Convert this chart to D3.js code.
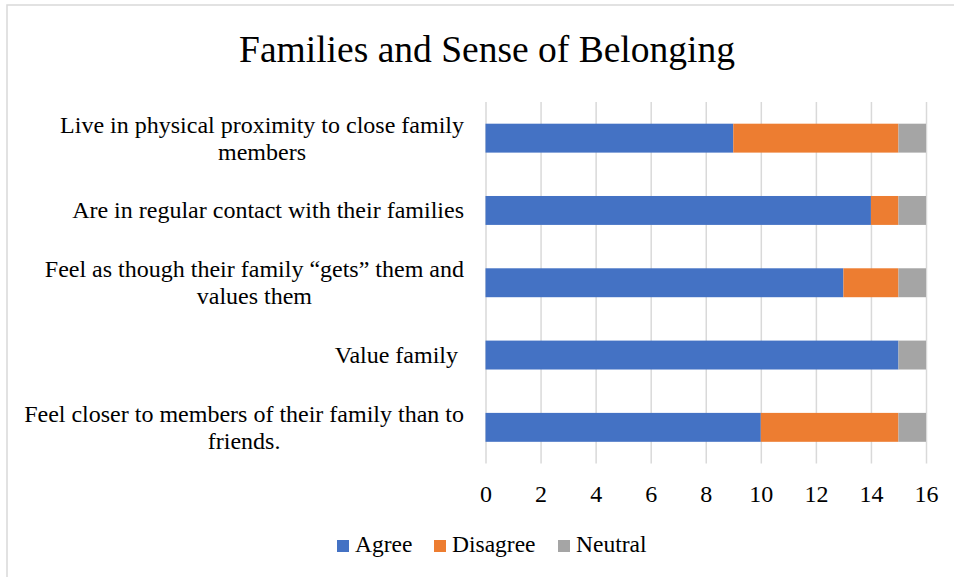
<!DOCTYPE html>
<html>
<head>
<meta charset="utf-8">
<script src="https://cdn.jsdelivr.net/npm/d3@7"></script>
<style>
  html, body { margin: 0; padding: 0; background: #fff; }
  svg { display: block; }
  svg text { font-family: "Liberation Serif", "Times New Roman", serif !important; fill: #000; }
</style>
</head>
<body>
<svg id="chart" width="954" height="577" font-family="Liberation Serif, serif"></svg>
<script>
// Survey responses: how families relate to a sense of belonging
const categories = [
  "Live in physical proximity to close family members",
  "Are in regular contact with their families",
  "Feel as though their family \u201cgets\u201d them and values them",
  "Value family ",
  "Feel closer to members of their family than to friends."
];
const seriesNames = ["Agree", "Disagree", "Neutral"];
const agree    = [9, 14, 13, 15, 10];
const disagree = [6, 1, 2, 0, 5];
const neutral  = [1, 1, 1, 1, 1];
const xTicks = [0, 2, 4, 6, 8, 10, 12, 14, 16];
const colors = ["#4472C4", "#ED7D31", "#A5A5A5"];

const svg = d3.select("#chart");
const W = 954, H = 577;

// outer chart frame
svg.append("rect")
  .attr("x", 7).attr("y", 5)
  .attr("width", W + 20).attr("height", H + 20)
  .attr("fill", "#fff")
  .attr("stroke", "#d9d9d9").attr("stroke-width", 1.5);

// title
svg.append("text")
  .attr("x", 487).attr("y", 62)
  .attr("text-anchor", "middle")
  .style("font-size", "37.5px")
  .text("Families and Sense of Belonging");

const plot = { left: 485.5, right: 926, top: 102, bottom: 463.5 };

const x = d3.scaleLinear().domain([0, 16]).range([plot.left, plot.right]);
const y = d3.scaleBand().domain(categories)
  .range([plot.top, plot.bottom])
  .paddingInner(0.6).paddingOuter(0.3);

// vertical gridlines
svg.append("g")
  .attr("transform", `translate(0,${plot.bottom})`)
  .call(d3.axisBottom(x).tickValues(xTicks).tickSize(-(plot.bottom - plot.top)).tickFormat(""))
  .call(g => g.select(".domain").remove())
  .call(g => g.selectAll("line").attr("stroke", "#d9d9d9").attr("stroke-width", 1.5));

// stacked series
const rows = categories.map((c, i) => ({ cat: c, Agree: agree[i], Disagree: disagree[i], Neutral: neutral[i] }));
const stack = d3.stack().keys(seriesNames)(rows);

svg.append("g").selectAll("g")
  .data(stack).join("g")
  .attr("fill", (d, i) => colors[i])
  .selectAll("rect")
  .data(d => d).join("rect")
  .attr("x", d => x(d[0]))
  .attr("width", d => x(d[1]) - x(d[0]))
  .attr("y", d => y(d.data.cat))
  .attr("height", y.bandwidth());

// x axis tick labels
svg.append("g")
  .attr("transform", `translate(0,${plot.bottom})`)
  .call(d3.axisBottom(x).tickValues(xTicks).tickSize(0).tickPadding(0))
  .call(g => g.attr("font-family", null).attr("font-size", null))
  .call(g => g.select(".domain").remove())
  .call(g => g.selectAll("text")
    .attr("y", 38).attr("dy", null)
    .style("font-size", "24px"));

// category labels, wrapped and centred within a right-aligned block
const labelSize = 24, lineH = 26.7, maxW = 455, labelRight = 464;
const labelG = svg.append("g").style("font-size", labelSize + "px");
const measure = labelG.append("text").style("white-space", "pre");
function width(s) { measure.text(s); return measure.node().getComputedTextLength(); }

categories.forEach(cat => {
  const words = cat.split(/(?<=\S) (?=\S)/);
  const lines = [];
  let cur = "";
  words.forEach(w => {
    const test = cur ? cur + " " + w : w;
    if (cur && width(test) > maxW) { lines.push(cur); cur = w; } else cur = test;
  });
  lines.push(cur);
  const blockW = d3.max(lines, width);
  const cx = labelRight - blockW / 2;
  const cy = y(cat) + y.bandwidth() / 2;
  const first = cy - (lines.length - 1) * lineH / 2 + 8;
  lines.forEach((ln, i) => {
    labelG.append("text")
      .attr("x", cx).attr("y", first + i * lineH)
      .attr("text-anchor", "middle")
      .style("white-space", "pre")
      .text(ln);
  });
});
measure.remove();

// legend
const legend = svg.append("g").style("font-size", "23.5px");
const legendX = [337, 434, 558];
seriesNames.forEach((s, i) => {
  legend.append("rect")
    .attr("x", legendX[i]).attr("y", 540)
    .attr("width", 12).attr("height", 12)
    .attr("fill", colors[i]);
  legend.append("text")
    .attr("x", legendX[i] + 18).attr("y", 552)
    .text(s);
});
</script>
</body>
</html>
